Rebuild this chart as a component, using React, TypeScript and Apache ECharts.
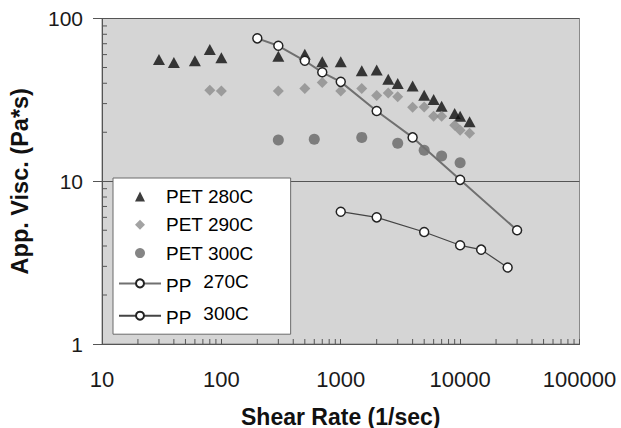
import React, { useEffect, useRef } from "react";
import * as echarts from "echarts";

const FONT = "'Liberation Sans', Arial, Helvetica, sans-serif";

// Tick labels
const xTickLabels = ["10", "100", "1000", "10000", "100000"];
const yTickLabels = ["1", "10", "100"];
const minorMultipliers = [2, 3, 4, 5, 6, 7, 8, 9];
const xDecades = [10, 100, 1000, 10000];
const yDecades = [1, 10];

// Series names
const seriesNames = ["PET 280C", "PET 290C", "PET 300C", "PP  270C", "PP  300C"];
const legendIcons = [
  "path://M5,0 L10,10 L0,10 Z",
  "path://M5,1 L9,5 L5,9 L1,5 Z",
  "path://M5,1 A4,4 0 1 1 4.99,1 Z",
  undefined,
  undefined,
];

// PET 280C
const pet280X = [30, 40, 60, 80, 100, 300, 500, 700, 1000, 1500, 2000, 2500, 3000, 4000, 5000, 6000, 7000, 9000, 10000, 12000];
const pet280Y = [56, 53.7, 55, 64.6, 57.4, 58.7, 60.3, 54.2, 54.2, 47.7, 48.2, 42.3, 39.9, 38.5, 33.8, 31.8, 28.9, 26.1, 25.1, 23.2];

// PET 290C
const pet290X = [80, 100, 300, 500, 700, 1000, 1500, 2000, 2500, 3000, 4000, 5000, 6000, 7000, 9000, 10000, 12000];
const pet290Y = [36.3, 35.8, 35.8, 37.2, 40.5, 35.8, 37.2, 33.6, 34.9, 33, 28.5, 28.6, 25.1, 25.1, 22.1, 20.6, 19.7];

// PET 300C
const pet300X = [300, 600, 1500, 3000, 5000, 7000, 10000];
const pet300Y = [17.9, 18.1, 18.6, 17.1, 15.5, 14.3, 13.0];

// PP 270C
const pp270X = [200, 300, 500, 700, 1000, 2000, 4000, 10000, 30000];
const pp270Y = [75.5, 68, 55, 46.7, 40.8, 27, 18.6, 10.2, 5.0];

// PP 300C
const pp300X = [1000, 2000, 5000, 10000, 15000, 25000];
const pp300Y = [6.5, 6.0, 4.88, 4.04, 3.8, 2.95];

const zip = (xs: number[], ys: number[]) => xs.map((x, i) => [x, ys[i]]);

export default function App() {
  const ref = useRef<HTMLDivElement>(null);

  useEffect(() => {
    if (!ref.current) return;
    const chart = echarts.init(ref.current, null, { renderer: "svg" });

    const xMinor: number[][] = [];
    xDecades.forEach((d) => minorMultipliers.forEach((m) => xMinor.push([d * m, 1])));
    const yMinor: number[][] = [];
    yDecades.forEach((d) => minorMultipliers.forEach((m) => yMinor.push([10, d * m])));

    const ppMarker = {
      color: "#ffffff",
      borderColor: "#222222",
      borderWidth: 1.5,
    };

    chart.setOption({
      animation: false,
      backgroundColor: "#ffffff",
      textStyle: { fontFamily: FONT },
      grid: {
        left: 102,
        right: 41.5,
        top: 18.5,
        bottom: 84,
        outerBoundsMode: "none",
        containLabel: false,
        show: true,
        backgroundColor: "#d5d5d5",
        borderColor: "#8a8a8a",
        borderWidth: 1,
      },
      xAxis: {
        type: "log",
        logBase: 10,
        min: 10,
        max: 100000,
        name: "Shear Rate (1/sec)",
        nameLocation: "middle",
        nameGap: 61,
        nameTextStyle: { fontSize: 23, fontWeight: "bold", color: "#111", fontFamily: FONT },
        axisLine: { show: true, lineStyle: { color: "#555", width: 1 } },
        axisTick: { show: true, inside: true, length: 5, lineStyle: { color: "#555" } },
        splitLine: { show: false },
        axisLabel: {
          fontSize: 22,
          color: "#1a1a1a",
          margin: 24,
          fontFamily: FONT,
          formatter: (v: number) => {
            const s = String(Math.round(v));
            return xTickLabels.includes(s) ? s : "";
          },
        },
      },
      yAxis: {
        type: "log",
        logBase: 10,
        min: 1,
        max: 100,
        name: "App. Visc. (Pa*s)",
        nameLocation: "middle",
        nameGap: 70,
        nameRotate: 90,
        nameTextStyle: { fontSize: 23.5, fontWeight: "bold", color: "#111", fontFamily: FONT },
        axisLine: { show: true, lineStyle: { color: "#555", width: 1 } },
        axisTick: { show: true, inside: false, length: 9, lineStyle: { color: "#555" } },
        splitLine: { show: true, lineStyle: { color: "#555", width: 1.2 } },
        axisLabel: {
          fontSize: 21,
          color: "#1a1a1a",
          margin: 19,
          fontFamily: FONT,
          formatter: (v: number) => {
            const s = String(Math.round(v));
            return yTickLabels.includes(s) ? s : "";
          },
        },
      },
      legend: {
        orient: "vertical",
        left: 113,
        top: 178,
        data: seriesNames.map((n, i) => (legendIcons[i] ? { name: n, icon: legendIcons[i] } : { name: n })),
        itemWidth: 42,
        itemHeight: 10,
        itemGap: 9.3,
        symbolKeepAspect: true,
        padding: [9, 37, 7, 5],
        backgroundColor: "#ffffff",
        borderColor: "#6a6a6a",
        borderWidth: 1,
        borderRadius: 0,
        selectedMode: false,
        textStyle: {
          fontSize: 19,
          color: "#000",
          fontFamily: FONT,
          rich: {
            pp: { fontSize: 19, color: "#000", fontFamily: FONT, padding: [4, 0, 0, 0] },
            t: { fontSize: 19, color: "#000", fontFamily: FONT, padding: [0, 0, 4, 12] },
          },
        },
        formatter: (name: string) => {
          if (name.startsWith("PP")) {
            return `{pp|PP}{t|${name.replace(/^PP\s+/, "")}}`;
          }
          return name;
        },
      },
      series: [
        {
          name: "PET 280C",
          type: "scatter",
          symbol: "triangle",
          symbolSize: [12, 11],
          itemStyle: { color: "#0d0d0d" },
          data: zip(pet280X, pet280Y),
          z: 3,
        },
        {
          name: "PET 290C",
          type: "scatter",
          symbol: "diamond",
          symbolSize: 11,
          itemStyle: { color: "#8c8c8c" },
          data: zip(pet290X, pet290Y),
          z: 3,
        },
        {
          name: "PET 300C",
          type: "scatter",
          symbol: "circle",
          symbolSize: 11,
          itemStyle: { color: "#666666" },
          data: zip(pet300X, pet300Y),
          z: 3,
        },
        {
          name: "PP  270C",
          type: "line",
          symbol: "circle",
          symbolSize: 9,
          showSymbol: true,
          lineStyle: { color: "#707070", width: 2 },
          itemStyle: ppMarker,
          data: zip(pp270X, pp270Y),
          z: 4,
        },
        {
          name: "PP  300C",
          type: "line",
          symbol: "circle",
          symbolSize: 9,
          showSymbol: true,
          lineStyle: { color: "#444444", width: 1.2 },
          itemStyle: ppMarker,
          data: zip(pp300X, pp300Y),
          z: 4,
        },
        {
          type: "custom",
          silent: true,
          z: 1,
          data: xMinor,
          renderItem: (_p: any, api: any) => {
            const pt = api.coord([api.value(0), 1]);
            return {
              type: "line",
              shape: { x1: pt[0], y1: pt[1], x2: pt[0], y2: pt[1] - 5 },
              style: { stroke: "#555", lineWidth: 1 },
            };
          },
        },
        {
          type: "custom",
          silent: true,
          z: 1,
          data: yMinor,
          renderItem: (_p: any, api: any) => {
            const pt = api.coord([10, api.value(1)]);
            return {
              type: "line",
              shape: { x1: pt[0], y1: pt[1], x2: pt[0] + 5, y2: pt[1] },
              style: { stroke: "#555", lineWidth: 1 },
            };
          },
        },
      ],
    });

    return () => chart.dispose();
  }, []);

  return <div ref={ref} style={{ position: "fixed", left: 0, top: 0, width: 621, height: 428 }} />;
}
